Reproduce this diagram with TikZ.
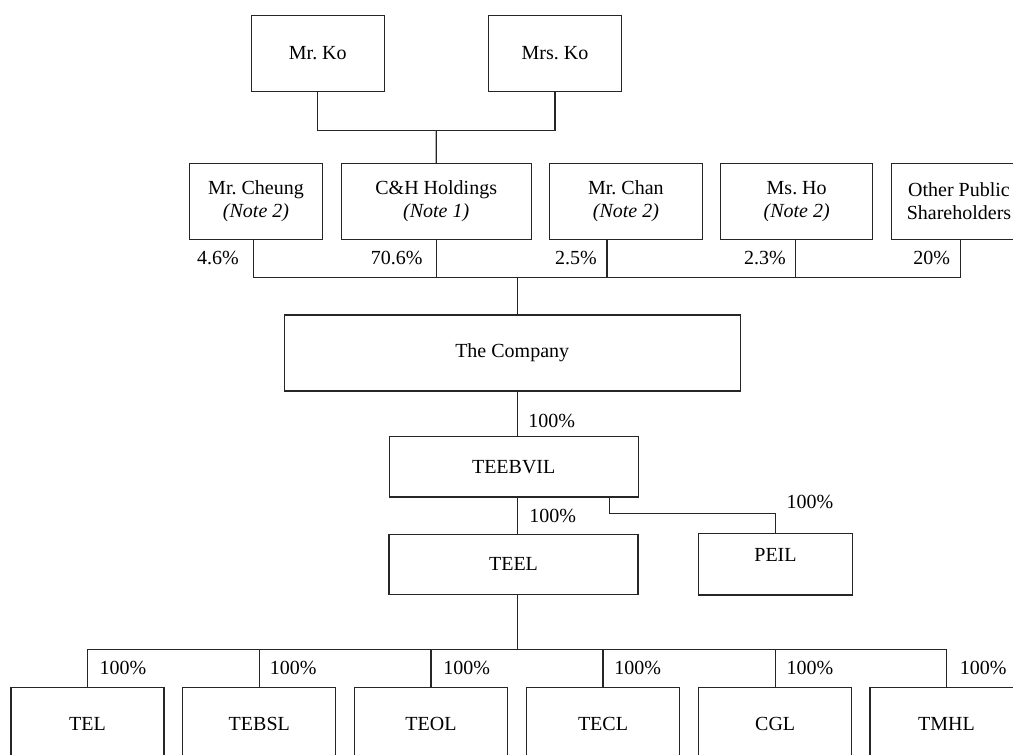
\documentclass[tikz,border=0pt]{standalone}
\usepackage{fontspec}
\setmainfont{Liberation Serif}
\begin{document}
\begin{tikzpicture}[x=1pt,y=-1pt,
  every node/.style={font=\fontsize{20}{23.3}\selectfont\frenchspacing},
  box/.style={draw=black!85, line width=1.1pt, rectangle, inner sep=0pt, align=center, fill=white},
  pct/.style={inner sep=0pt},
  conn/.style={draw=black!85, line width=1.1pt}]
\useasboundingbox (0,0) rectangle (1013,755);
\clip (0,0) rectangle (1013,755);
% top owners
\node[box, minimum width=133, minimum height=75.7] (mrko) at (317.8,53.2) {Mr.\ Ko};
\node[box, minimum width=133.4, minimum height=75.7] (mrsko) at (555,53.2) {Mrs.\ Ko};
% shareholders
\node[box, minimum width=133.4, minimum height=76] (cheung) at (256,201.3) {Mr.\ Cheung\\\textit{(Note 2)}};
\node[box, minimum width=189.7, minimum height=76] (ch) at (436.2,201.3) {C\&H Holdings\\\textit{(Note 1)}};
\node[box, minimum width=152.3, minimum height=76] (chan) at (625.9,201.3) {Mr.\ Chan\\\textit{(Note 2)}};
\node[box, minimum width=152, minimum height=76] (ho) at (796.7,201.3) {Ms.\ Ho\\\textit{(Note 2)}};
\node[box, minimum width=134.3, minimum height=76] (other) at (959,201.3) {Other Public\\Shareholders};
% company chain
\node[box, minimum width=455.7, minimum height=76] (company) at (512.2,353) {The Company};
\node[box, minimum width=249.3, minimum height=60.3] (teebvil) at (513.7,466.8) {TEEBVIL};
\node[box, minimum width=249, minimum height=60] (teel) at (513.5,564.3) {TEEL};
\node[box, minimum width=154.4, minimum height=61.3] (peil) at (775.5,564.3) {\raisebox{19pt}{PEIL}};
% subsidiaries
\node[box, minimum width=153, minimum height=73.4] (tel) at (87.5,724) {TEL};
\node[box, minimum width=153, minimum height=73.4] (tebsl) at (259.3,724) {TEBSL};
\node[box, minimum width=153, minimum height=73.4] (teol) at (431,724) {TEOL};
\node[box, minimum width=153, minimum height=73.4] (tecl) at (603,724) {TECL};
\node[box, minimum width=153, minimum height=73.4] (cgl) at (775.2,724) {CGL};
\node[box, minimum width=153, minimum height=73.4] (tmhl) at (946.5,724) {TMHL};
% coordinates for junctions
\coordinate (kojoin) at (436.3,130.3);
\coordinate (shjoin) at (517.7,277.3);
\coordinate (subjoin) at (517.5,649.3);
\coordinate (peilbend) at (609.7,513.3);
% Mr Ko / Mrs Ko to C&H
\draw[conn] (mrko.south) |- (kojoin) -| (mrsko.south);
\draw[conn] (kojoin) -- (ch.north);
% shareholders to company
\draw[conn] ([xshift=-2.7pt]cheung.south) |- (shjoin);
\draw[conn] (ch.south) |- (shjoin);
\draw[conn] ([xshift=-18.9pt]chan.south) |- (shjoin);
\draw[conn] ([xshift=-1.4pt]ho.south) |- (shjoin);
\draw[conn] ([xshift=1.7pt]other.south) |- (shjoin);
\draw[conn] (shjoin) -- (company.north -| shjoin);
% company to TEEBVIL
\draw[conn] (company.south -| shjoin) -- (teebvil.north -| shjoin);
% TEEBVIL to TEEL and PEIL
\draw[conn] (teebvil.south -| shjoin) -- (teel.north -| shjoin);
\draw[conn] (teebvil.south -| peilbend) -- (peilbend) -| (peil.north);
% TEEL to subsidiaries
\draw[conn] (teel.south -| subjoin) -- (subjoin);
\draw[conn] (tel.north) |- (subjoin);
\draw[conn] (tebsl.north) |- (subjoin);
\draw[conn] (teol.north) |- (subjoin);
\draw[conn] (tecl.north) |- (subjoin);
\draw[conn] (cgl.north) |- (subjoin);
\draw[conn] (tmhl.north) |- (subjoin);
% percentage labels
\node[pct] (p1) at (218,258.3) {4.6\%};
\node[pct] (p2) at (396.7,258.3) {70.6\%};
\node[pct] (p3) at (576,258.3) {2.5\%};
\node[pct] (p4) at (765,258.3) {2.3\%};
\node[pct] (p5) at (931.7,258.3) {20\%};
\node[pct] (p6) at (551.7,421) {100\%};
\node[pct] (p7) at (552.7,516) {100\%};
\node[pct] (p8) at (810,501.7) {100\%};
\node[pct] (p9) at (123,668.3) {100\%};
\node[pct] (p10) at (293.3,668.3) {100\%};
\node[pct] (p11) at (466.7,668.3) {100\%};
\node[pct] (p12) at (637.7,668.3) {100\%};
\node[pct] (p13) at (810,668.3) {100\%};
\node[pct] (p14) at (983.3,668.3) {100\%};
\end{tikzpicture}
\end{document}
